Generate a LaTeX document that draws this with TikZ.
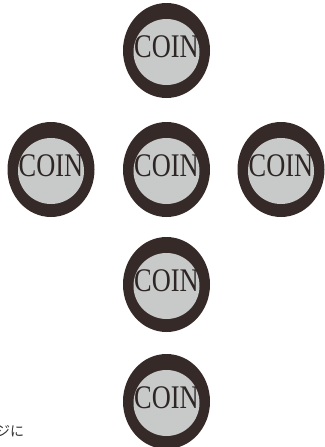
\documentclass[tikz,border=0pt]{standalone}
\usepackage{fontspec}
\setmainfont{Liberation Serif}
\newfontfamily\jpfont{Noto Sans CJK JP}
\definecolor{ringc}{HTML}{352A28}
\definecolor{facec}{HTML}{C8CACA}
\definecolor{inkc}{HTML}{2E2624}
\definecolor{jpc}{HTML}{333333}
\tikzset{
  cointext/.style={font=\fontsize{33}{33}\selectfont, text=inkc, xscale=0.8, anchor=base, inner sep=0pt},
}
\begin{document}
\begin{tikzpicture}[x=1pt,y=-1pt]
\useasboundingbox (0,0) rectangle (324,447);
\foreach \n/\cx/\cy in {top/166.5/50.5, left/51/169.5, mid/166.5/169.5, right/281/169.5, low/166.5/284.5, bot/166.5/401.5}{
  \fill[ringc] (\cx,\cy) ellipse [x radius=43.5, y radius=47.5];
  \fill[facec] (\cx,\cy+1.5) circle [radius=33];
  \node[cointext] (\n) at (\cx,\cy+7) {COIN};
}
\node[font=\jpfont\fontsize{14}{14}\selectfont, text=jpc, anchor=base west, inner sep=0pt] (jp) at (-4,436) {ジに};
\end{tikzpicture}
\end{document}
